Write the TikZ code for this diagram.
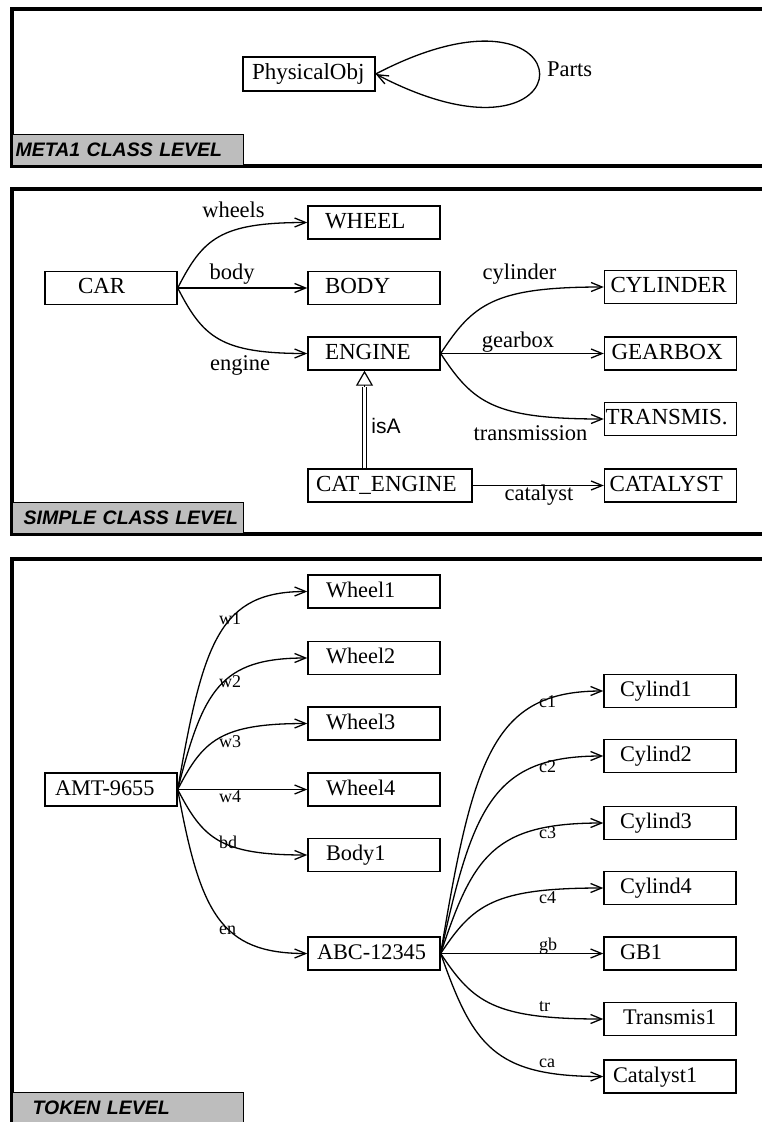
\documentclass[tikz,border=0pt]{standalone}
\usepackage{fontspec}
\setmainfont{Liberation Serif}
\setsansfont{Liberation Sans}
\usetikzlibrary{arrows.meta}
\definecolor{lvlgray}{gray}{0.74}
\begin{document}
\begin{tikzpicture}[x=1pt,y=-1pt,
  frame/.style={line width=3.5pt},
  lvl/.style={draw, fill=lvlgray, line width=1.2pt, anchor=south west, minimum height=31pt, inner ysep=0pt,
    inner xsep=0pt, text width=231pt, align=left,
    font=\sffamily\bfseries\itshape\fontsize{19.5}{22}\selectfont, text height=14pt, text depth=0pt},
  cbox/.style={draw, line width=1.4pt, minimum height=33pt, inner ysep=0pt, align=left, text height=16pt, text depth=5pt,
    font=\fontsize{23}{27}\selectfont},
  tbox/.style={cbox, font=\fontsize{22.3}{26}\selectfont},
  rel/.style={line width=1.3pt, -{Straight Barb[length=11pt,width=9pt,line width=1.3pt]}},
  elab/.style={font=\fontsize{22.5}{26}\selectfont, inner sep=0pt},
  tlab/.style={font=\fontsize{18}{20}\selectfont, inner sep=0pt, anchor=west},
]
\useasboundingbox (0,0) rectangle (762,1122);
\clip (0,0) rectangle (762,1122);
\fill[white] (0,0) rectangle (762,1122);

% ---------- panel frames ----------
\draw[frame] (12,9) rectangle (800,166);
\draw[frame] (12,189) rectangle (800,534);
\draw[frame] (12,559) rectangle (800,1140);

% ---------- level labels ----------
\node[lvl] (lvlA) at (12,166) {\hspace*{3pt}META1 CLASS LEVEL};
\node[lvl] (lvlB) at (12,534) {\hspace*{11pt}SIMPLE CLASS LEVEL};
\node[lvl] (lvlC) at (12,1124) {\hspace*{20pt}TOKEN LEVEL};

% ---------- META1 CLASS LEVEL ----------
\node[cbox, inner xsep=9pt, text width=114pt, minimum height=34pt] (phys) at (309,74) {PhysicalObj};
\draw[rel] (phys.east) .. controls (594,-40) and (594,188) .. (phys.east);
\node[elab, anchor=west] (parts) at (547,69) {Parts};

% ---------- SIMPLE CLASS LEVEL ----------
\node[cbox, inner xsep=33pt, text width=66pt] (car) at (111,288) {CAR};
\node[cbox, inner xsep=17pt, text width=98pt] (wheel) at (374,222.5) {WHEEL};
\node[cbox, inner xsep=17pt, text width=98pt] (body) at (374,288) {BODY};
\node[cbox, inner xsep=17pt, text width=98pt] (engine) at (374,353.5) {ENGINE};
\node[cbox, inner xsep=6pt, text width=120pt] (cyl) at (670.5,287) {CYLINDER};
\node[cbox, inner xsep=7pt, text width=118pt] (gear) at (670.5,353.5) {GEARBOX};
\node[cbox, inner xsep=1pt, text width=130pt] (trans) at (670.5,419) {TRANSMIS.};
\node[cbox, inner xsep=8pt, text width=148pt] (catengine) at (390,485.5) {CAT\_ENGINE};
\node[cbox, inner xsep=5pt, text width=122pt] (catalyst) at (670.5,485.5) {CATALYST};

\draw[rel] (car.east) .. controls (203,238.5) and (220,222.5) .. (wheel.west);
\draw[rel] (car.east) -- (body.west);
\draw[rel] (car.east) .. controls (203,337) and (220,353.5) .. (engine.west);
\draw[rel] (engine.east) .. controls (473,304) and (494,287) .. (cyl.west);
\draw[rel] (engine.east) -- (gear.west);
\draw[rel] (engine.east) .. controls (473,403) and (494,419) .. (trans.west);
\draw[rel] (catengine.east) -- (catalyst.west);

\coordinate (isatip) at ([xshift=-9.5pt]engine.south);
\coordinate (isabase) at ([xshift=-9.5pt,yshift=-16pt]engine.south);
\draw[line width=1.2pt, double, double distance=3pt] (catengine.north -| isatip) -- (isabase);
\draw[line width=1.2pt, -{Triangle[open,length=15pt,width=17pt,line width=1.2pt]}] (isabase) -- (isatip);

\node[elab] (lwheels) at (233.5,209.5) {wheels};
\node[elab] (lbody) at (232,274) {body};
\node[elab] (lengine) at (240,365) {engine};
\node[elab] (lcyl) at (519.5,274) {cylinder};
\node[elab] (lgear) at (518,342) {gearbox};
\node[elab] (ltrans) at (530.5,433) {transmission};
\node[elab] (lcat) at (539,495) {catalyst};
\node[font=\sffamily\fontsize{21}{24}\selectfont, inner sep=0pt] (lisa) at (386,426) {isA};

% ---------- TOKEN LEVEL ----------
\node[tbox, inner xsep=10pt, text width=112pt] (amt) at (111,789.5) {AMT-9655};
\node[tbox, inner xsep=18pt, text width=96pt] (w1) at (374,591.5) {Wheel1};
\node[tbox, inner xsep=18pt, text width=96pt] (w2) at (374,658) {Wheel2};
\node[tbox, inner xsep=18pt, text width=96pt] (w3) at (374,723.5) {Wheel3};
\node[tbox, inner xsep=18pt, text width=96pt] (w4) at (374,789.5) {Wheel4};
\node[tbox, inner xsep=18pt, text width=96pt] (b1) at (374,855) {Body1};
\node[tbox, inner xsep=9pt, text width=114pt] (abc) at (374,953.5) {ABC-12345};
\node[tbox, inner xsep=16pt, text width=100pt] (c1) at (670,691) {Cylind1};
\node[tbox, inner xsep=16pt, text width=100pt] (c2) at (670,756) {Cylind2};
\node[tbox, inner xsep=16pt, text width=100pt] (c3) at (670,823) {Cylind3};
\node[tbox, inner xsep=16pt, text width=100pt] (c4) at (670,888) {Cylind4};
\node[tbox, inner xsep=16pt, text width=100pt] (gb1) at (670,953.5) {GB1};
\node[tbox, inner xsep=19pt, text width=94pt] (tr1) at (670,1019) {Transmis1};
\node[tbox, inner xsep=9pt, text width=114pt] (ca1) at (670,1076.5) {Catalyst1};

\draw[rel] (amt.east) .. controls (203,641) and (220,591.5) .. (w1.west);
\draw[rel] (amt.east) .. controls (203,690.5) and (220,658) .. (w2.west);
\draw[rel] (amt.east) .. controls (203,740.5) and (220,723.5) .. (w3.west);
\draw[rel] (amt.east) -- (w4.west);
\draw[rel] (amt.east) .. controls (203,838.5) and (220,855) .. (b1.west);
\draw[rel] (amt.east) .. controls (200,912) and (220,953.5) .. (abc.west);

\draw[rel] (abc.east) .. controls (473,756.5) and (494,691) .. (c1.west);
\draw[rel] (abc.east) .. controls (473,805) and (494,756) .. (c2.west);
\draw[rel] (abc.east) .. controls (473,855.5) and (494,823) .. (c3.west);
\draw[rel] (abc.east) .. controls (473,904.5) and (494,888) .. (c4.west);
\draw[rel] (abc.east) -- (gb1.west);
\draw[rel] (abc.east) .. controls (473,1002.5) and (494,1019) .. (tr1.west);
\draw[rel] (abc.east) .. controls (473,1045.5) and (494,1076.5) .. (ca1.west);

\node[tlab] (lw1) at (219,619) {w1};
\node[tlab] (lw2) at (219,681.5) {w2};
\node[tlab] (lw3) at (219,742) {w3};
\node[tlab] (lw4) at (219,797) {w4};
\node[tlab] (lbd) at (219,842) {bd};
\node[tlab] (len) at (219,930) {en};
\node[tlab] (lc1) at (539,701.5) {c1};
\node[tlab] (lc2) at (539,766.5) {c2};
\node[tlab] (lc3) at (539,833) {c3};
\node[tlab] (lc4) at (539,898) {c4};
\node[tlab] (lgb) at (539,946) {gb};
\node[tlab] (ltr) at (539,1007) {tr};
\node[tlab] (lca) at (539,1063) {ca};
\end{tikzpicture}
\end{document}
